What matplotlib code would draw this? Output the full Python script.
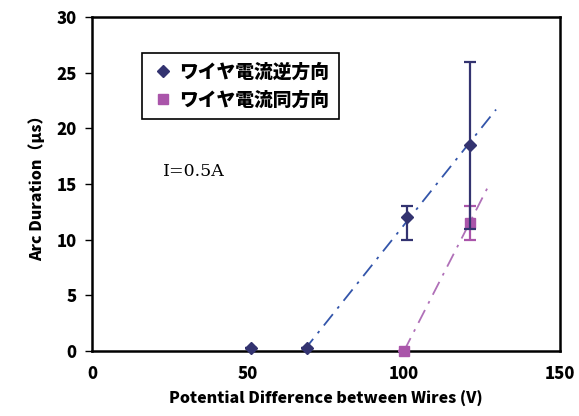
import numpy as np
import matplotlib.pyplot as plt

plt.rcParams['font.family'] = ['Noto Sans CJK JP', 'DejaVu Sans']

# data
x_rev = [51, 69, 101, 121]
y_rev = [0.3, 0.3, 12.0, 18.5]
err_rev_lo = [0, 0, 2.0, 7.5]
err_rev_hi = [0, 0, 1.0, 7.5]

x_same = [100, 121]
y_same = [0.0, 11.5]
err_same_lo = [0, 1.5]
err_same_hi = [0, 1.5]

labels = ['ワイヤ電流逆方向', 'ワイヤ電流同方向']

c_rev = '#333370'
c_rev_line = '#3355aa'
c_same = '#aa55aa'
c_same_line = '#b070b8'

fig = plt.figure(figsize=(5.79, 4.16), dpi=100)
ax = fig.add_axes([92/579, 1-351/416, (560-92)/579, (351-17)/416])

# trend lines (linear fit)
p1 = np.polyfit(x_rev[1:], y_rev[1:], 1)
xx1 = np.array([68, 129.5])
ax.plot(xx1, np.polyval(p1, xx1), color=c_rev_line, lw=1.3, ls=(0, (8, 4, 1.5, 4)), zorder=2)

p2 = np.polyfit(x_same, y_same, 1)
xx2 = np.array([100, 127])
ax.plot(xx2, np.polyval(p2, xx2), color=c_same_line, lw=1.3, ls=(0, (8, 4, 1.5, 4)), zorder=2)

ax.errorbar(x_same, y_same, yerr=[err_same_lo, err_same_hi], fmt='s', color=c_same,
            ms=7, ecolor=c_same, elinewidth=1.6, capsize=4, capthick=1.6,
            label=labels[1], zorder=3, clip_on=False)
ax.errorbar(x_rev, y_rev, yerr=[err_rev_lo, err_rev_hi], fmt='D', color=c_rev,
            ms=6, ecolor=c_rev, elinewidth=1.6, capsize=4, capthick=1.6,
            label=labels[0], zorder=4, clip_on=False)

ax.set_xlim(0, 150)
ax.set_ylim(0, 30)
ax.set_xticks([0, 50, 100, 150])
ax.set_yticks(np.arange(0, 31, 5))
ax.tick_params(axis='x', length=0, pad=10, labelsize=12)
ax.tick_params(axis='y', direction='out', length=5, width=1, pad=6, labelsize=12)
for lab in ax.get_xticklabels() + ax.get_yticklabels():
    lab.set_fontweight('heavy')
for s in ax.spines.values():
    s.set_linewidth(1.8)

ax.set_xlabel('Potential Difference between Wires (V)', fontsize=11.5, fontweight='heavy', labelpad=6)
ax.set_ylabel('Arc Duration（\u03bcs）', fontsize=11.5, fontweight='heavy', labelpad=8)

ax.text(163/579, 1-172/416, 'I=0.5A', transform=fig.transFigure, fontsize=12.5,
        family=['DejaVu Serif'], va='center')

handles, labs = ax.get_legend_handles_labels()
handles = [h[0] for h in handles][::-1]
labs = labs[::-1]
leg = ax.legend(handles, labs, loc='upper left', bbox_to_anchor=((142-92)/468, 1-(53-17)/334),
                borderaxespad=0, fancybox=False, edgecolor='black', framealpha=1, borderpad=0.5,
                handletextpad=0.3, handlelength=1.2, labelspacing=0.5,
                prop={'family': 'Noto Sans CJK JP', 'weight': 'heavy', 'size': 13.5})
leg.get_frame().set_linewidth(1.2)

fig.savefig('out.png', dpi=100)
